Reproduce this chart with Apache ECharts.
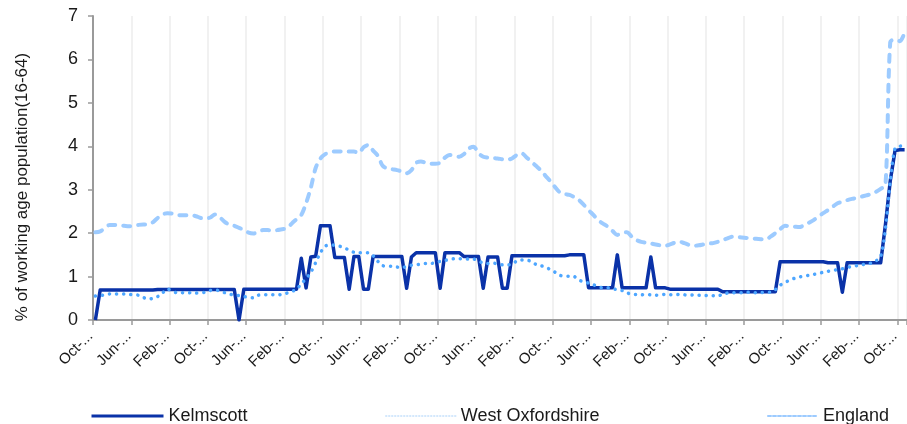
<!DOCTYPE html>
<html>
<head>
<meta charset="utf-8">
<script src="https://cdn.jsdelivr.net/npm/echarts@6/dist/echarts.min.js"></script>
<style>
html, body { margin: 0; padding: 0; background: #fff; }
#chart { width: 907px; height: 424px; }
</style>
</head>
<body>
<div id="chart"></div>
<script>
// claimant rate, % of working age population (16-64), monthly from Oct
var kelmscott = [
    0, 0.69, 0.69, 0.69, 0.69, 0.69, 0.69, 0.69, 0.69, 0.69,
    0.69, 0.69, 0.69, 0.70, 0.70, 0.70, 0.70, 0.70, 0.70, 0.70,
    0.70, 0.70, 0.70, 0.70, 0.70, 0.70, 0.70, 0.70, 0.70, 0.70,
    0, 0.71, 0.71, 0.71, 0.71, 0.71, 0.71, 0.71, 0.71, 0.71,
    0.71, 0.71, 0.71, 1.42, 0.74, 1.45, 1.47, 2.17, 2.17, 2.17,
    1.44, 1.44, 1.44, 0.71, 1.46, 1.46, 0.71, 0.71, 1.46, 1.46,
    1.46, 1.46, 1.46, 1.46, 1.46, 0.73, 1.45, 1.55, 1.55, 1.55,
    1.55, 1.55, 0.73, 1.55, 1.55, 1.55, 1.55, 1.46, 1.46, 1.46,
    1.46, 0.73, 1.45, 1.45, 1.45, 0.73, 0.73, 1.48, 1.48, 1.48,
    1.48, 1.48, 1.48, 1.48, 1.48, 1.48, 1.48, 1.48, 1.48, 1.50,
    1.50, 1.50, 1.50, 0.74, 0.74, 0.74, 0.74, 0.74, 0.74, 1.50,
    0.74, 0.74, 0.74, 0.74, 0.74, 0.74, 1.45, 0.74, 0.74, 0.74,
    0.71, 0.71, 0.71, 0.71, 0.71, 0.71, 0.71, 0.71, 0.71, 0.71,
    0.71, 0.65, 0.65, 0.65, 0.65, 0.65, 0.65, 0.65, 0.65, 0.65,
    0.65, 0.65, 0.65, 1.34, 1.34, 1.34, 1.34, 1.34, 1.34, 1.34,
    1.34, 1.34, 1.34, 1.32, 1.32, 1.32, 0.64, 1.32, 1.32, 1.32,
    1.32, 1.32, 1.32, 1.32, 1.32, 2.2, 3.2, 3.9, 3.92, 3.92
];
var westOxfordshire = [
    0.55, 0.56, 0.58, 0.60, 0.60, 0.60, 0.60, 0.59, 0.58, 0.57,
    0.52, 0.48, 0.50, 0.54, 0.62, 0.72, 0.66, 0.63, 0.63, 0.62,
    0.63, 0.62, 0.63, 0.64, 0.68, 0.69, 0.67, 0.63, 0.60, 0.57,
    0.56, 0.54, 0.52, 0.51, 0.57, 0.58, 0.58, 0.58, 0.58, 0.59,
    0.62, 0.66, 0.70, 0.84, 0.95, 1.10, 1.32, 1.55, 1.70, 1.73,
    1.72, 1.70, 1.66, 1.61, 1.56, 1.55, 1.55, 1.55, 1.48, 1.35,
    1.25, 1.24, 1.24, 1.22, 1.20, 1.24, 1.26, 1.27, 1.29, 1.30,
    1.30, 1.32, 1.35, 1.37, 1.40, 1.41, 1.41, 1.41, 1.40, 1.40,
    1.36, 1.31, 1.30, 1.31, 1.29, 1.27, 1.27, 1.28, 1.36, 1.38,
    1.38, 1.35, 1.28, 1.25, 1.22, 1.16, 1.10, 1.03, 1.01, 1.01,
    1.00, 0.92, 0.88, 0.85, 0.81, 0.77, 0.74, 0.74, 0.73, 0.69,
    0.68, 0.63, 0.59, 0.59, 0.58, 0.59, 0.58, 0.57, 0.58, 0.59,
    0.58, 0.58, 0.59, 0.58, 0.57, 0.58, 0.57, 0.56, 0.57, 0.56,
    0.55, 0.60, 0.62, 0.63, 0.63, 0.63, 0.64, 0.63, 0.63, 0.63,
    0.64, 0.64, 0.70, 0.80, 0.86, 0.92, 0.96, 0.99, 1.01, 1.03,
    1.05, 1.07, 1.10, 1.12, 1.14, 1.16, 1.18, 1.21, 1.23, 1.25,
    1.27, 1.29, 1.31, 1.36, 1.46, 2.10, 3.20, 3.95, 4.00, 4.02
];
var england = [
    2.02, 2.04, 2.12, 2.19, 2.19, 2.18, 2.17, 2.16, 2.17, 2.19,
    2.20, 2.20, 2.25, 2.35, 2.43, 2.46, 2.45, 2.42, 2.41, 2.41,
    2.41, 2.39, 2.35, 2.34, 2.36, 2.43, 2.36, 2.26, 2.19, 2.17,
    2.12, 2.08, 2.01, 1.99, 2.03, 2.07, 2.07, 2.06, 2.07, 2.09,
    2.11, 2.22, 2.32, 2.42, 2.69, 3.05, 3.50, 3.72, 3.82, 3.86,
    3.88, 3.88, 3.89, 3.88, 3.88, 3.84, 3.98, 4.03, 3.90, 3.78,
    3.55, 3.49, 3.47, 3.45, 3.42, 3.38, 3.45, 3.62, 3.65, 3.62,
    3.60, 3.60, 3.62, 3.74, 3.80, 3.78, 3.76, 3.82, 3.95, 3.99,
    3.84, 3.76, 3.74, 3.73, 3.72, 3.70, 3.69, 3.72, 3.80, 3.84,
    3.75, 3.65, 3.55, 3.45, 3.32, 3.20, 3.06, 2.94, 2.90, 2.88,
    2.83, 2.76, 2.65, 2.53, 2.42, 2.30, 2.22, 2.15, 2.05, 1.96,
    2.01, 2.02, 1.92, 1.84, 1.80, 1.78, 1.76, 1.74, 1.72, 1.71,
    1.74, 1.78, 1.80, 1.77, 1.73, 1.71, 1.72, 1.74, 1.76, 1.77,
    1.80, 1.84, 1.88, 1.92, 1.91, 1.90, 1.89, 1.88, 1.87, 1.86,
    1.85, 1.92, 2.00, 2.09, 2.17, 2.16, 2.15, 2.14, 2.18, 2.24,
    2.30, 2.38, 2.46, 2.53, 2.61, 2.69, 2.72, 2.76, 2.79, 2.81,
    2.84, 2.87, 2.90, 2.95, 3.02, 3.10, 6.40, 6.46, 6.42, 6.62
];

// month categories, Oct-06 onwards
var monthNames = ['Jan', 'Feb', 'Mar', 'Apr', 'May', 'Jun', 'Jul', 'Aug', 'Sep', 'Oct', 'Nov', 'Dec'];
var categories = [];
for (var k = 0; k < kelmscott.length; k++) {
    var m = 9 + k;
    categories.push(monthNames[m % 12] + '-' + String(2006 + Math.floor(m / 12)).slice(2));
}
var yTicks = [0, 1, 2, 3, 4, 5, 6, 7];

var font = '"Liberation Sans", Arial, sans-serif';
var legendText = {fontSize: 18, color: '#1a1a1a', fontFamily: font};

var myChart = echarts.init(document.getElementById('chart'));
myChart.setOption({
    animation: false,
    textStyle: {fontFamily: font},
    grid: {left: 93, right: -1, top: 16, bottom: 104},
    legend: [
        {
            data: ['Kelmscott'], left: 85, top: 402, itemWidth: 72, itemHeight: 14,
            itemStyle: {opacity: 0},
            lineStyle: {width: 3},
            textStyle: legendText
        },
        {
            data: ['West Oxfordshire'], left: 380, top: 402, itemWidth: 70, itemHeight: 14,
            itemStyle: {opacity: 0},
            lineStyle: {width: 1.5, color: '#c6e0fb', type: [1, 2]},
            textStyle: legendText
        },
        {
            data: ['England'], left: 762, top: 402, itemWidth: 50, itemHeight: 14,
            itemStyle: {opacity: 0},
            lineStyle: {width: 2, type: [3, 2]},
            textStyle: legendText
        }
    ],
    xAxis: {
        type: 'category',
        data: categories,
        boundaryGap: true,
        axisLine: {lineStyle: {color: '#9a9a9a', width: 2}},
        axisTick: {show: true, interval: 7, length: 5, lineStyle: {color: '#9a9a9a', width: 1.5}},
        splitLine: {show: true, interval: 7, lineStyle: {color: '#ececec', width: 1.5}},
        axisLabel: {
            interval: 7,
            rotate: 45,
            margin: 9,
            padding: [0, 7, 0, 0],
            fontSize: 15,
            color: '#1a1a1a',
            fontFamily: font,
            formatter: function (v) { return v.split('-')[0] + '-...'; }
        }
    },
    yAxis: {
        type: 'value',
        min: yTicks[0],
        max: yTicks[yTicks.length - 1],
        interval: 1,
        name: '% of working age population(16-64)',
        nameLocation: 'middle',
        nameGap: 62,
        nameTextStyle: {fontSize: 17, color: '#1a1a1a', fontFamily: font, padding: [0, 38, 0, 0]},
        axisLine: {show: true, lineStyle: {color: '#9a9a9a', width: 2}},
        axisTick: {show: true, length: 5, lineStyle: {color: '#9a9a9a', width: 1.5}},
        splitLine: {show: false},
        axisLabel: {fontSize: 18, color: '#1a1a1a', margin: 15, fontFamily: font}
    },
    series: [
        {
            name: 'Kelmscott',
            type: 'line',
            data: kelmscott,
            symbol: 'none',
            color: '#0a32a8',
            lineStyle: {width: 3.5, color: '#0a32a8', join: 'round'}
        },
        {
            name: 'West Oxfordshire',
            type: 'line',
            data: westOxfordshire,
            symbol: 'none',
            smooth: 0.3,
            color: '#4da6ff',
            lineStyle: {width: 3.5, color: '#4da6ff', type: [0.1, 7], cap: 'round'}
        },
        {
            name: 'England',
            type: 'line',
            data: england,
            symbol: 'none',
            smooth: 0.3,
            color: '#9dcbff',
            lineStyle: {width: 4, color: '#9dcbff', type: [7, 8], cap: 'round'}
        }
    ]
});
</script>
</body>
</html>
